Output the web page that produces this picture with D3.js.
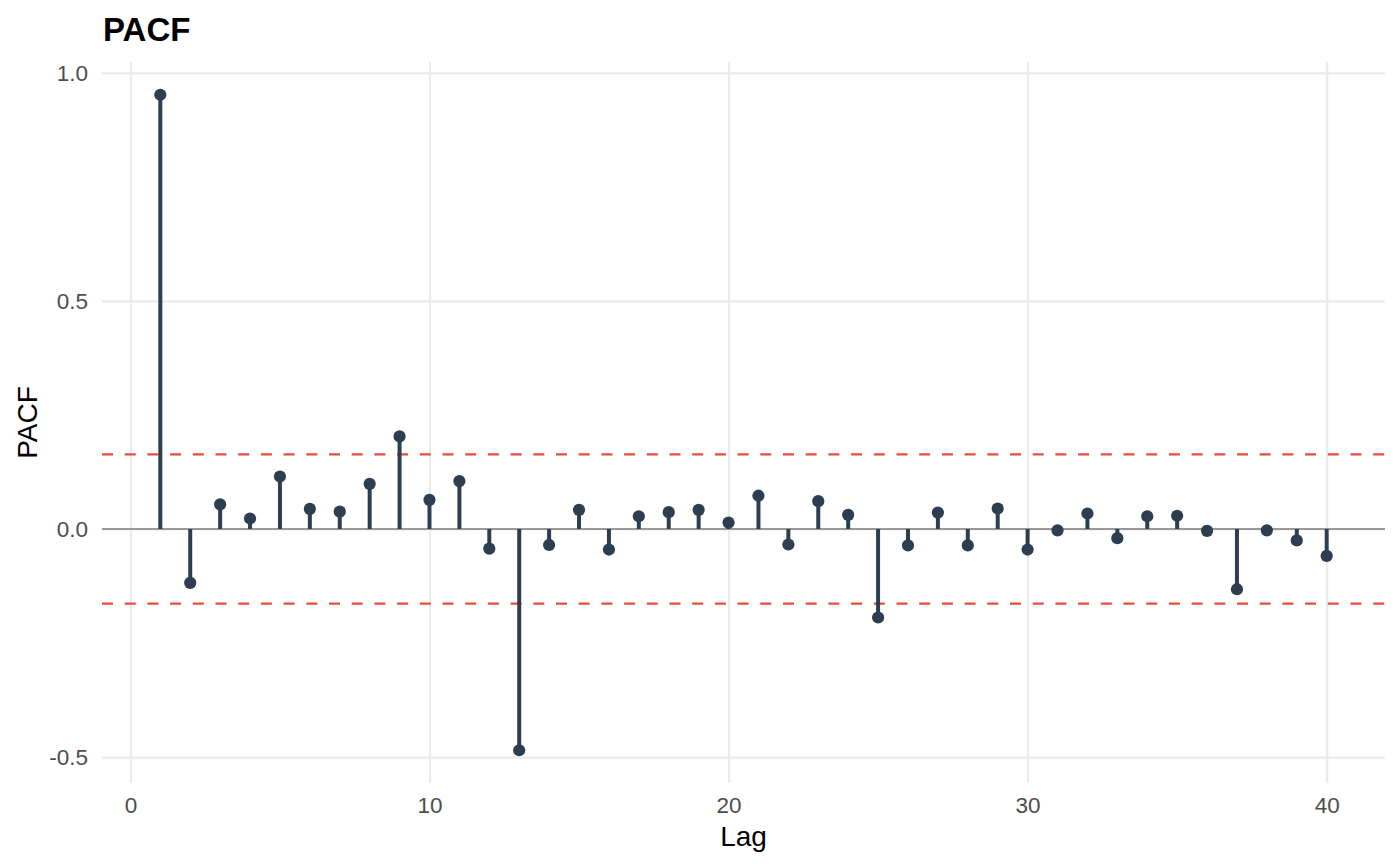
<!DOCTYPE html>
<html>
<head>
<meta charset="utf-8">
<script src="https://cdn.jsdelivr.net/npm/d3@7"></script>
<style>
body{margin:0;background:#ffffff;}
svg{display:block;font-family:"Liberation Sans",Arial,sans-serif;}
</style>
</head>
<body>
<div id="chart"></div>
<script>
//////// DATA ////////
const lags = [1,2,3,4,5,6,7,8,9,10,11,12,13,14,15,16,17,18,19,20,
              21,22,23,24,25,26,27,28,29,30,31,32,33,34,35,36,37,38,39,40]
const pacfValues = [0.952,-0.118,0.054,0.023,0.115,0.044,0.038,0.099,0.203,0.064,
                    0.105,-0.043,-0.485,-0.035,0.042,-0.045,0.028,0.037,0.042,0.014,
                    0.073,-0.034,0.061,0.031,-0.194,-0.036,0.036,-0.036,0.045,-0.045,
                    -0.003,0.034,-0.020,0.028,0.029,-0.004,-0.132,-0.003,-0.025,-0.059]
const confBound = 0.1636
const xTickValues = [0,10,20,30,40]
const yTickValues = [-0.5,0,0.5,1]
const yTickLabels = ['-0.5','0.0','0.5','1.0']
const chartTitle = 'PACF'
const xTitle = 'Lag'
const yTitle = 'PACF'

//////// LAYOUT ////////
const width = 1400
const height = 866
const panel = {left: 102, right: 1385, top: 62, bottom: 783}

const data = lags.map((d,i) => ({lag: d, value: pacfValues[i]}))

// ggplot style 5% expansion on both axes
const xExt = d3.extent(lags)
const xPad = (xExt[1] - xExt[0]) * 0.05
const yExt = d3.extent(pacfValues)
const yPad = (yExt[1] - yExt[0]) * 0.05

const x = d3.scaleLinear()
    .domain([xExt[0] - xPad, xExt[1] + xPad])
    .range([panel.left, panel.right])
const y = d3.scaleLinear()
    .domain([yExt[0] - yPad, yExt[1] + yPad])
    .range([panel.bottom, panel.top])

const svg = d3.select('#chart').append('svg')
    .attr('width', width)
    .attr('height', height)

//////// GRID ////////
const gridX = svg.append('g')
    .attr('transform', 'translate(0,' + panel.bottom + ')')
    .call(d3.axisBottom(x).tickValues(xTickValues)
        .tickSize(-(panel.bottom - panel.top)).tickFormat(''))
const gridY = svg.append('g')
    .attr('transform', 'translate(' + panel.left + ',0)')
    .call(d3.axisLeft(y).tickValues(yTickValues)
        .tickSize(-(panel.right - panel.left)).tickFormat(''))
svg.selectAll('.domain').remove()
gridX.selectAll('line').attr('stroke', '#ebebeb').attr('stroke-width', 2.2)
gridY.selectAll('line').attr('stroke', '#ebebeb').attr('stroke-width', 2.2)

//////// REFERENCE LINES ////////
svg.append('line')
    .attr('x1', panel.left).attr('x2', panel.right)
    .attr('y1', y(0)).attr('y2', y(0))
    .attr('stroke', '#999999')
    .attr('stroke-width', 2)

svg.selectAll('.confLine').data([confBound, -confBound])
    .enter().append('line')
    .attr('class', 'confLine')
    .attr('x1', panel.left).attr('x2', panel.right)
    .attr('y1', d => y(d)).attr('y2', d => y(d))
    .attr('stroke', '#e74c3c')
    .attr('stroke-width', 2.4)
    .attr('stroke-dasharray', '11,11.7')

//////// STEMS AND POINTS ////////
svg.selectAll('.stem').data(data)
    .enter().append('line')
    .attr('class', 'stem')
    .attr('x1', d => x(d.lag)).attr('x2', d => x(d.lag))
    .attr('y1', y(0)).attr('y2', d => y(d.value))
    .attr('stroke', '#2c3e50')
    .attr('stroke-width', 4)

svg.selectAll('.pt').data(data)
    .enter().append('circle')
    .attr('class', 'pt')
    .attr('cx', d => x(d.lag))
    .attr('cy', d => y(d.value))
    .attr('r', 6.1)
    .attr('fill', '#2c3e50')

//////// AXES TEXT ////////
const xAxis = svg.append('g')
    .attr('transform', 'translate(0,' + panel.bottom + ')')
    .call(d3.axisBottom(x).tickValues(xTickValues).tickSize(0).tickPadding(14.5))
const yAxis = svg.append('g')
    .attr('transform', 'translate(' + panel.left + ',0)')
    .call(d3.axisLeft(y).tickValues(yTickValues).tickSize(0).tickPadding(14)
        .tickFormat((d,i) => yTickLabels[i]))
xAxis.select('.domain').remove()
yAxis.select('.domain').remove()
svg.selectAll('.tick text')
    .attr('fill', '#4d4d4d')
    .style('font-size', '22.5px')
    .style('font-family', '"Liberation Sans",Arial,sans-serif')

svg.append('text')
    .attr('x', (panel.left + panel.right) / 2)
    .attr('y', 846)
    .attr('text-anchor', 'middle')
    .style('font-size', '28px')
    .attr('fill', '#000')
    .text(xTitle)

svg.append('text')
    .attr('transform', 'translate(36.5,' + (panel.top + panel.bottom) / 2 + ') rotate(-90)')
    .attr('text-anchor', 'middle')
    .style('font-size', '28px')
    .attr('fill', '#000')
    .text(yTitle)

svg.append('text')
    .attr('x', 103)
    .attr('y', 40.5)
    .style('font-size', '33px')
    .style('font-weight', 'bold')
    .attr('fill', '#000')
    .text(chartTitle)
</script>
</body>
</html>
